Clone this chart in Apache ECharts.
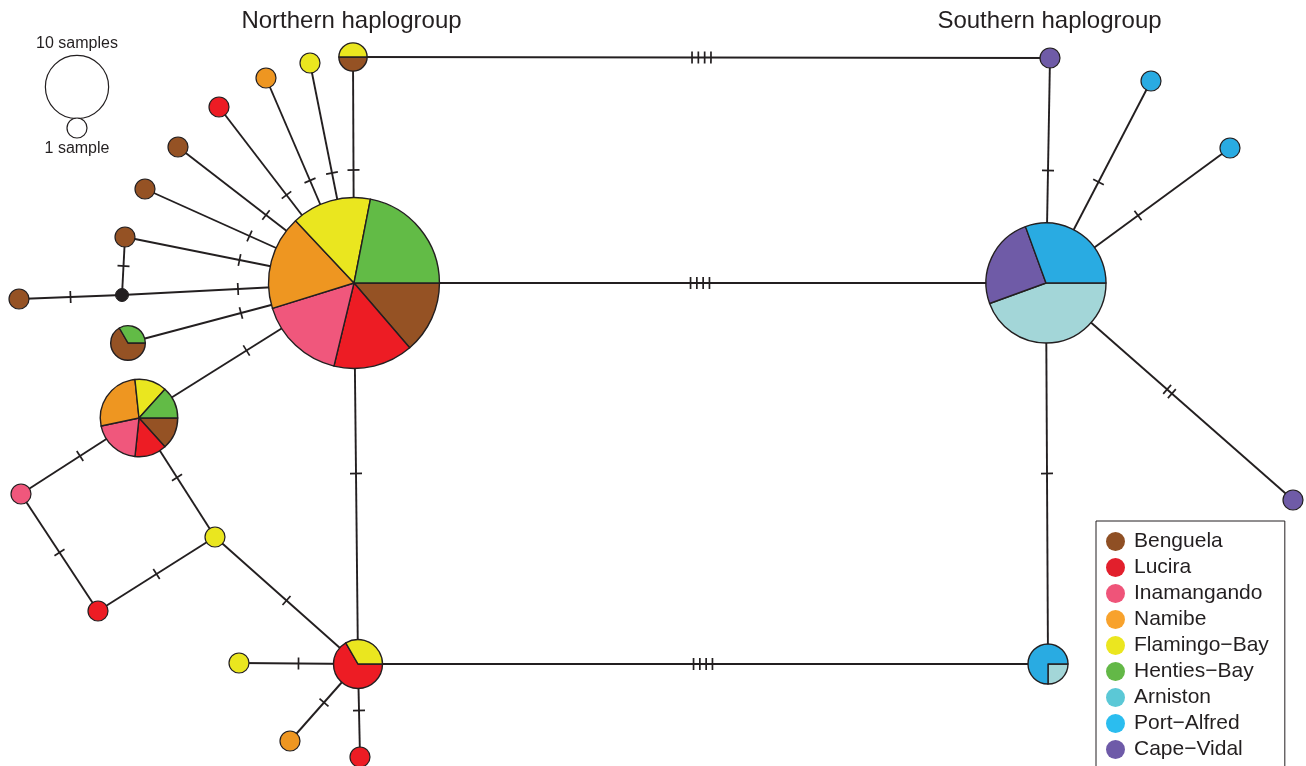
<!DOCTYPE html>
<html>
<head>
<meta charset="utf-8">
<script src="https://cdn.jsdelivr.net/npm/echarts@6/dist/echarts.min.js"></script>
<style>
  html, body { margin: 0; padding: 0; background: #fff; }
  #chart { width: 1306px; height: 766px; }
</style>
</head>
<body>
<div id="chart"></div>
<script>
// Sampling sites
const populations = ['Benguela', 'Lucira', 'Inamangando', 'Namibe', 'Flamingo\u2212Bay',
  'Henties\u2212Bay', 'Arniston', 'Port\u2212Alfred', 'Cape\u2212Vidal'];
const sliceColors = ['#955224', '#ED1C24', '#F0577C', '#EE9621', '#EAE61F',
  '#62BB46', '#A3D6D8', '#29ABE2', '#6F5BA7'];
const legendColors = ['#8F4F24', '#E21F2C', '#EF5479', '#F8A22C', '#EBE61F',
  '#63B847', '#5BC8D6', '#2BBDEF', '#6E5AA8'];

// Haplotype positions in network layout units
const hapX = [354, 353, 310, 266, 219, 178, 145, 125, 122, 19, 128, 139, 21, 215, 98,
  358, 239, 290, 360, 1046, 1050, 1151, 1230, 1293, 1048];
const hapY = [283, 57, 63, 78, 107, 147, 189, 237, 295, 299, 343, 418, 494, 537, 611,
  664, 663, 741, 757, 283, 58, 81, 148, 500, 664];
// Sample counts per haplotype: [site index, count], listed clockwise from 3 o'clock.
// An empty list is a median vector (unsampled haplotype).
const hapSlices = [
  [[0, 10], [1, 11], [2, 12], [3, 13], [4, 11], [5, 16]],
  [[0, 1], [4, 1]],
  [[4, 1]],
  [[3, 1]],
  [[1, 1]],
  [[0, 1]],
  [[0, 1]],
  [[0, 1]],
  [],
  [[0, 1]],
  [[0, 2], [5, 1]],
  [[0, 2], [1, 2], [2, 3], [3, 4], [4, 2], [5, 2]],
  [[2, 1]],
  [[4, 1]],
  [[1, 1]],
  [[1, 4], [4, 2]],
  [[4, 1]],
  [[3, 1]],
  [[1, 1]],
  [[6, 16], [8, 9], [7, 11]],
  [[8, 1]],
  [[7, 1]],
  [[7, 1]],
  [[8, 1]],
  [[6, 1], [7, 3]]
];

// Network links and number of mutational steps on each
const edgeFrom  = [0, 0, 0, 0, 0, 0, 0, 0, 0, 0, 0, 0, 8, 8, 11, 11, 12, 14, 13, 15, 15, 15, 15, 1, 19, 19, 19, 19, 19];
const edgeTo    = [1, 2, 3, 4, 5, 6, 7, 8, 10, 11, 15, 19, 9, 7, 12, 13, 14, 13, 15, 16, 17, 18, 24, 20, 20, 21, 22, 23, 24];
const edgeSteps = [1, 1, 1, 1, 1, 1, 1, 1, 1, 1, 1, 4, 1, 1, 1, 1, 1, 1, 1, 1, 1, 1, 4, 4, 1, 1, 1, 2, 1];

// Circle-size key
const keyCounts = [10, 1];
const keyX = [77, 77];
const keyY = [87, 128];

const INK = '#231f20';
const FONT = '"Liberation Sans", Arial, sans-serif';
const radiusUnits = n => 10 * Math.sqrt(n);

function renderEdge(params, api) {
  const k = api.value(0);
  const a = edgeFrom[k], b = edgeTo[k], steps = edgeSteps[k];
  const p1 = api.coord([hapX[a], hapY[a]]);
  const p2 = api.coord([hapX[b], hapY[b]]);
  const dx = p2[0] - p1[0], dy = p2[1] - p1[1];
  const len = Math.sqrt(dx * dx + dy * dy);
  const ux = dx / len, uy = dy / len;
  const nx = -uy, ny = ux;
  const mx = (p1[0] + p2[0]) / 2, my = (p1[1] + p2[1]) / 2;
  const half = 6, gap = 6.3;
  const children = [{
    type: 'line',
    shape: { x1: p1[0], y1: p1[1], x2: p2[0], y2: p2[1] },
    style: { stroke: INK, lineWidth: 1.9 }
  }];
  for (let s = 0; s < steps; s++) {
    const off = (s - (steps - 1) / 2) * gap;
    const cx = mx + ux * off, cy = my + uy * off;
    children.push({
      type: 'line',
      shape: { x1: cx - nx * half, y1: cy - ny * half, x2: cx + nx * half, y2: cy + ny * half },
      style: { stroke: INK, lineWidth: 1.7 }
    });
  }
  return { type: 'group', children };
}

function renderHaplotype(params, api) {
  const i = api.value(2);
  const c = api.coord([api.value(0), api.value(1)]);
  const slices = hapSlices[i];
  if (slices.length === 0) {
    return { type: 'circle', shape: { cx: c[0], cy: c[1], r: 6.5 }, style: { fill: INK, stroke: INK, lineWidth: 1 } };
  }
  const total = slices.reduce((s, d) => s + d[1], 0);
  const r = api.size([radiusUnits(total), 0])[0];
  if (slices.length === 1) {
    return {
      type: 'circle', shape: { cx: c[0], cy: c[1], r },
      style: { fill: sliceColors[slices[0][0]], stroke: INK, lineWidth: 1.2 }
    };
  }
  const children = [];
  let ang = 0;
  slices.forEach(d => {
    const sweep = d[1] / total * Math.PI * 2;
    children.push({
      type: 'sector',
      shape: { cx: c[0], cy: c[1], r0: 0, r, startAngle: ang, endAngle: ang + sweep, clockwise: true },
      style: { fill: sliceColors[d[0]], stroke: INK, lineWidth: 1.4, lineJoin: 'round' }
    });
    ang += sweep;
  });
  return { type: 'group', children };
}

function renderKey(params, api) {
  const c = api.coord([api.value(0), api.value(1)]);
  const r = api.size([radiusUnits(api.value(2)), 0])[0];
  return { type: 'circle', shape: { cx: c[0], cy: c[1], r }, style: { fill: '#fff', stroke: INK, lineWidth: 1.2 } };
}

const chart = echarts.init(document.getElementById('chart'), null, { renderer: 'canvas' });

const legendSeries = populations.map((name, i) => ({
  name, type: 'scatter', data: [], itemStyle: { color: legendColors[i], opacity: 1 }
}));

chart.setOption({
  animation: false,
  backgroundColor: '#fff',
  textStyle: { fontFamily: FONT },
  grid: { left: 0, right: 0, top: 0, bottom: 0 },
  xAxis: { type: 'value', min: 0, max: 1306, show: false },
  yAxis: { type: 'value', min: 0, max: 766, inverse: true, show: false },
  legend: {
    orient: 'vertical',
    left: 1096, top: 521, height: 400,
    padding: [10, 16, 30, 10],
    itemWidth: 19, itemHeight: 19, itemGap: 5,
    icon: 'circle',
    selectedMode: false,
    borderColor: INK, borderWidth: 1, borderRadius: 0,
    backgroundColor: '#fff',
    textStyle: { fontFamily: FONT, fontSize: 21, color: INK, lineHeight: 21, padding: [0, 0, 0, 4] },
    data: populations.map((name, i) => ({ name, itemStyle: { color: legendColors[i], opacity: 1 } }))
  },
  graphic: [
    { type: 'text', x: 351.5, y: 21, style: { text: 'Northern haplogroup', fill: INK, font: '24px ' + FONT, textAlign: 'center', textVerticalAlign: 'middle' } },
    { type: 'text', x: 1049.5, y: 21, style: { text: 'Southern haplogroup', fill: INK, font: '24px ' + FONT, textAlign: 'center', textVerticalAlign: 'middle' } },
    { type: 'text', x: 77, y: 44, style: { text: '10 samples', fill: INK, font: '16px ' + FONT, textAlign: 'center', textVerticalAlign: 'middle' } },
    { type: 'text', x: 77, y: 149, style: { text: '1 sample', fill: INK, font: '16px ' + FONT, textAlign: 'center', textVerticalAlign: 'middle' } }
  ],
  series: [
    {
      type: 'custom', name: 'links', silent: true, clip: false,
      renderItem: renderEdge,
      data: edgeFrom.map((_, k) => [k])
    },
    {
      type: 'custom', name: 'haplotypes', silent: true, clip: false,
      renderItem: renderHaplotype,
      data: hapX.map((x, i) => [x, hapY[i], i])
    },
    {
      type: 'custom', name: 'size key', silent: true, clip: false,
      renderItem: renderKey,
      data: keyX.map((x, i) => [x, keyY[i], keyCounts[i]])
    }
  ].concat(legendSeries)
});
</script>
</body>
</html>
